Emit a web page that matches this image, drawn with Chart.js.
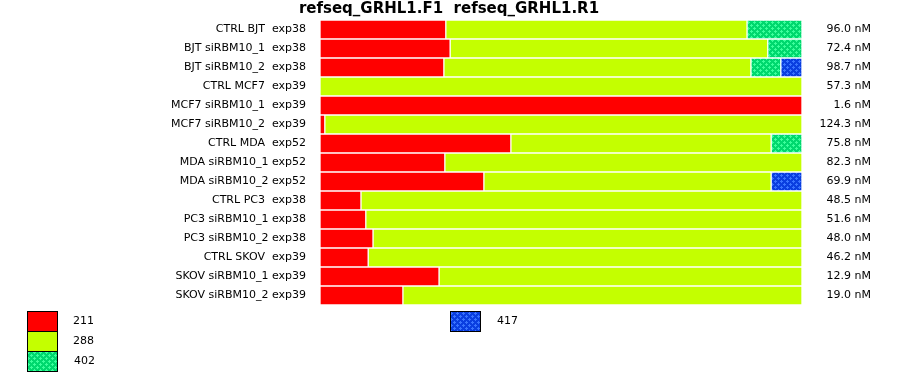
<!DOCTYPE html>
<html>
<head>
<meta charset="utf-8">
<script src="https://cdn.jsdelivr.net/npm/chart.js@4/dist/chart.umd.min.js"></script>
<style>
  body { margin: 0; background: #fff; }
</style>
</head>
<body>
<canvas id="fragmentChart" width="900" height="375"></canvas>
<script>
const samples = [
  "CTRL BJT  exp38",
  "BJT siRBM10_1  exp38",
  "BJT siRBM10_2  exp38",
  "CTRL MCF7  exp39",
  "MCF7 siRBM10_1  exp39",
  "MCF7 siRBM10_2  exp39",
  "CTRL MDA  exp52",
  "MDA siRBM10_1 exp52",
  "MDA siRBM10_2 exp52",
  "CTRL PC3  exp38",
  "PC3 siRBM10_1 exp38",
  "PC3 siRBM10_2 exp38",
  "CTRL SKOV  exp39",
  "SKOV siRBM10_1 exp39",
  "SKOV siRBM10_2 exp39"
];
const concentrations = [
  "96.0 nM", "72.4 nM", "98.7 nM", "57.3 nM", "1.6 nM",
  "124.3 nM", "75.8 nM", "82.3 nM", "69.9 nM", "48.5 nM",
  "51.6 nM", "48.0 nM", "46.2 nM", "12.9 nM", "19.0 nM"
];
// percent of each sample per fragment size
const size211 = [26.1, 27.0, 25.7, null, 100, 1.0, 39.6, 25.9, 34.0, 8.5, 9.5, 11.0, 10.0, 24.7, 17.2];
const size288 = [62.5, 65.9, 63.7, 100, null, 99.0, 54.0, 74.1, 59.6, 91.5, 90.5, 89.0, 90.0, 75.3, 82.8];
const size402 = [11.4, 7.1, 6.2, null, null, null, 6.4, null, null, null, null, null, null, null, null];
const size417 = [null, null, 4.4, null, null, null, null, null, 6.4, null, null, null, null, null, null];
const sizeLabels = ["211", "288", "402", "417"];
const chartTitle = "refseq_GRHL1.F1  refseq_GRHL1.R1";

function dotPattern(base, dot) {
  const c = document.createElement("canvas");
  c.width = 6; c.height = 6;
  const g = c.getContext("2d");
  g.fillStyle = base;
  g.fillRect(0, 0, 6, 6);
  g.fillStyle = dot;
  // small plus shapes, staggered
  [[1, 1], [4, 4]].forEach(([x, y]) => {
    g.fillRect(x, y - 1, 1, 3);
    g.fillRect(x - 1, y, 3, 1);
  });
  return g.createPattern(c, "repeat");
}

const ctx = document.getElementById("fragmentChart").getContext("2d");
const colors = ["#ff0000", "#c4ff00", dotPattern("#00d86e", "#3cff9c"), dotPattern("#0a3ee0", "#3a74ff")];

const labelFont = "11px 'DejaVu Sans'";

const extrasPlugin = {
  id: "extras",
  afterDraw(chart) {
    const c = chart.ctx;
    const y = chart.scales.y;
    c.save();
    c.fillStyle = "#000";
    c.font = "bold 15px 'DejaVu Sans'";
    c.textAlign = "center";
    c.textBaseline = "middle";
    c.fillText(chartTitle, 449, 9);

    c.font = labelFont;
    samples.forEach((s, i) => {
      const py = y.getPixelForValue(i);
      c.textAlign = "right";
      c.fillText(s, 306, py);
      c.fillText(concentrations[i], 871, py);
    });

    // legend
    const boxes = [
      { x: 27, y: 311, tx: 73 },
      { x: 27, y: 331, tx: 73 },
      { x: 27, y: 351, tx: 74 },
      { x: 450, y: 311, tx: 497 }
    ];
    boxes.forEach((b, i) => {
      c.fillStyle = colors[i];
      c.fillRect(b.x, b.y, 30, 20);
      c.strokeStyle = "#000";
      c.lineWidth = 1;
      c.strokeRect(b.x + 0.5, b.y + 0.5, 30, 20);
      c.fillStyle = "#000";
      c.textAlign = "left";
      c.fillText(sizeLabels[i], b.tx, b.y + 10);
    });
    c.restore();
  }
};

const seriesData = [size211, size288, size402, size417];

new Chart(ctx, {
  type: "bar",
  data: {
    labels: samples,
    datasets: seriesData.map((d, i) => ({
      label: sizeLabels[i],
      data: d,
      backgroundColor: colors[i],
      borderColor: "#fff",
      borderWidth: 1,
      borderSkipped: false,
      barThickness: 19
    }))
  },
  options: {
    indexAxis: "y",
    responsive: false,
    animation: false,
    layout: { padding: { left: 320, right: 98, top: 20, bottom: 70 } },
    scales: {
      x: { stacked: true, min: 0, max: 100, display: false },
      y: { stacked: true, display: false }
    },
    plugins: {
      legend: { display: false },
      tooltip: { enabled: false }
    }
  },
  plugins: [extrasPlugin]
});
</script>
</body>
</html>
